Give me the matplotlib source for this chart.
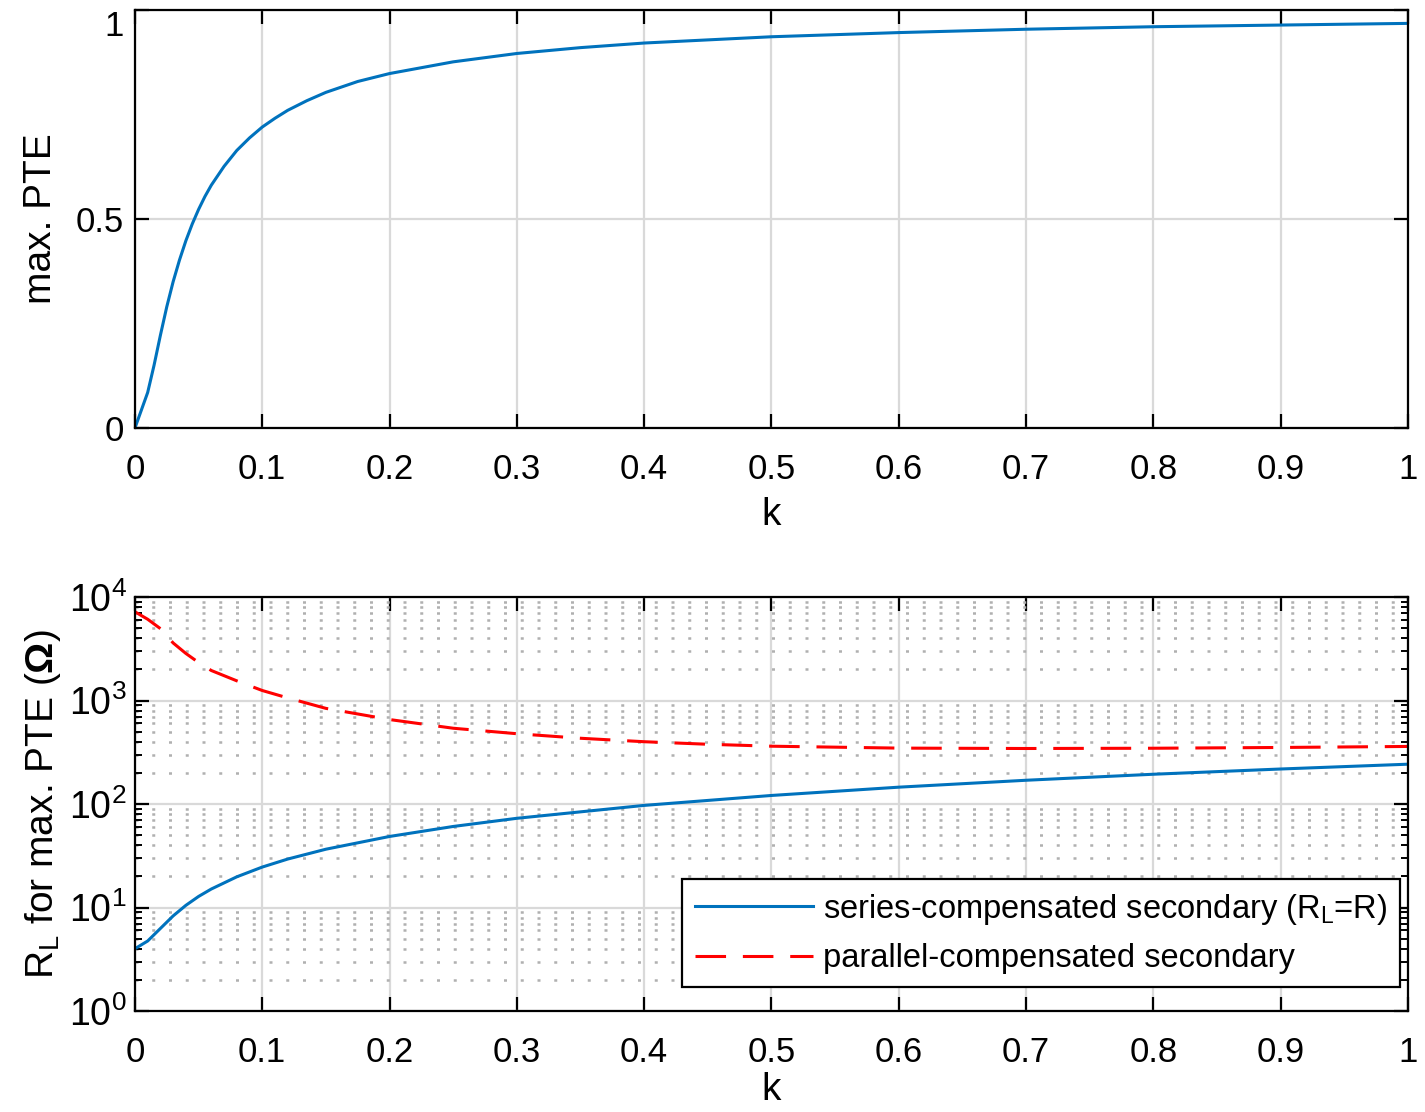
import numpy as np
import matplotlib.pyplot as plt
from matplotlib.ticker import FixedLocator, LogLocator, NullFormatter

plt.rcParams['font.family'] = ['Liberation Sans', 'DejaVu Sans']
plt.rcParams['mathtext.fontset'] = 'custom'
plt.rcParams['mathtext.rm'] = 'Liberation Sans'
plt.rcParams['mathtext.it'] = 'Liberation Sans:italic'
plt.rcParams['mathtext.bf'] = 'Liberation Sans:bold'

# values
k_pte = [0, 0.01, 0.015, 0.02, 0.025, 0.03, 0.035, 0.04, 0.045, 0.05, 0.055, 0.06, 0.07,
         0.08, 0.09, 0.1, 0.11, 0.12, 0.135, 0.15, 0.175, 0.2, 0.25,
         0.3, 0.35, 0.4, 0.5, 0.6, 0.7, 0.8, 0.9, 1.0]
max_pte = [0, 0.085, 0.150, 0.222, 0.290, 0.350, 0.402, 0.448, 0.488, 0.523, 0.554, 0.581,
           0.626, 0.664, 0.694, 0.720, 0.741, 0.760, 0.783, 0.803, 0.829, 0.848, 0.876,
           0.896, 0.910, 0.921, 0.936, 0.946, 0.954, 0.960, 0.964, 0.968]

k_series = [0, 0.01, 0.02, 0.03, 0.04, 0.05, 0.06, 0.08, 0.1, 0.12, 0.15, 0.2, 0.25,
            0.3, 0.4, 0.5, 0.6, 0.7, 0.8, 0.9, 1.0]
rl_series = [4.0, 4.75, 6.28, 8.30, 10.5, 12.8, 15.1, 19.8, 24.6, 29.4, 36.6, 48.6,
             60.7, 72.8, 97, 121, 145.5, 169.7, 194, 218, 242.6]

k_parallel = [0, 0.01, 0.02, 0.03, 0.04, 0.05, 0.06, 0.08, 0.1, 0.12, 0.15, 0.2, 0.25,
              0.3, 0.35, 0.4, 0.45, 0.5, 0.6, 0.7, 0.8, 0.9, 1.0]
rl_parallel = [7200, 6100, 4950, 3600, 2850, 2330, 1950, 1550, 1250, 1060, 840, 655, 540,
               478, 432, 400, 378, 362, 347, 344, 346, 352, 360]

xticks = [0, 0.1, 0.2, 0.3, 0.4, 0.5, 0.6, 0.7, 0.8, 0.9, 1]
xlabels = ['0', '0.1', '0.2', '0.3', '0.4', '0.5', '0.6', '0.7', '0.8', '0.9', '1']

blue = '#0072BD'
red = '#FF0000'
grid_col = '#d9d9d9'
fs = 25
lfs = 28

fig = plt.figure(figsize=(14.25, 11.12), dpi=100)
ax1 = fig.add_axes([0.0947, 0.6151, 0.8933, 0.3759])
ax2 = fig.add_axes([0.0947, 0.0908, 0.8933, 0.3723])


def style(ax):
    for s in ax.spines.values():
        s.set_linewidth(1.6)
        s.set_color('black')
        s.set_zorder(5)
    ax.tick_params(which='major', direction='in', length=10, width=1.6,
                   top=True, right=True, labelsize=fs)
    ax.tick_params(which='minor', direction='in', length=5, width=1.4,
                   top=True, right=True)
    ax.tick_params(axis='x', pad=18)
    ax.tick_params(axis='y', pad=8)
    ax.set_xlim(0, 1)
    ax.set_xticks(xticks)
    ax.set_xticklabels(xlabels)
    ax.grid(True, which='major', color=grid_col, lw=1.6)
    ax.set_axisbelow(True)


# top: max PTE
ax1.plot(k_pte, max_pte, color=blue, lw=2.2)
ax1.set_ylim(0, 1)
ax1.set_yticks([0, 0.5, 1])
ax1.set_yticklabels(['0', '0.5', '1'])
style(ax1)
ax1.tick_params(axis='y', labeltop=False)
ax1.get_yticklabels()[-1].set_va('top')
ax1.set_xlabel('k', fontsize=lfs, labelpad=8)
ax1.set_ylabel('max. PTE', fontsize=lfs, labelpad=12)

# bottom: optimal load
ax2.set_yscale('log')
ax2.plot(k_series, rl_series, color=blue, lw=2.2,
         label='series-compensated secondary (R$_\\mathregular{L}$=R)')
ax2.plot(k_parallel, rl_parallel, color=red, lw=2.2, dashes=(10, 5.5),
         label='parallel-compensated secondary')
ax2.set_ylim(1, 1e4)
ax2.yaxis.set_major_locator(FixedLocator([1, 10, 100, 1000, 10000]))
ax2.yaxis.set_minor_locator(LogLocator(base=10, subs=np.arange(2, 10), numticks=20))
ax2.yaxis.set_minor_formatter(NullFormatter())
style(ax2)
ax2.tick_params(axis='y', which='major', labelsize=27, pad=6)
ax2.grid(True, which='minor', axis='y', color='#b0b0b0', lw=1.8, ls=(0, (1.2, 5.5)))
ax2.set_xlabel('k', fontsize=lfs, labelpad=2)
ax2.set_ylabel('R$_\\mathregular{L}$ for max. PTE ($\\mathbf{\\Omega}$)', fontsize=lfs, labelpad=4)

leg = ax2.legend(loc='lower right', bbox_to_anchor=(0.9937, 0.058), borderaxespad=0,
                 fontsize=23.5, handlelength=3.6, handletextpad=0.3, fancybox=False,
                 framealpha=1, edgecolor='black', borderpad=0.4, labelspacing=0.5)
leg.get_frame().set_linewidth(1.6)

fig.savefig('out.png', dpi=100)
